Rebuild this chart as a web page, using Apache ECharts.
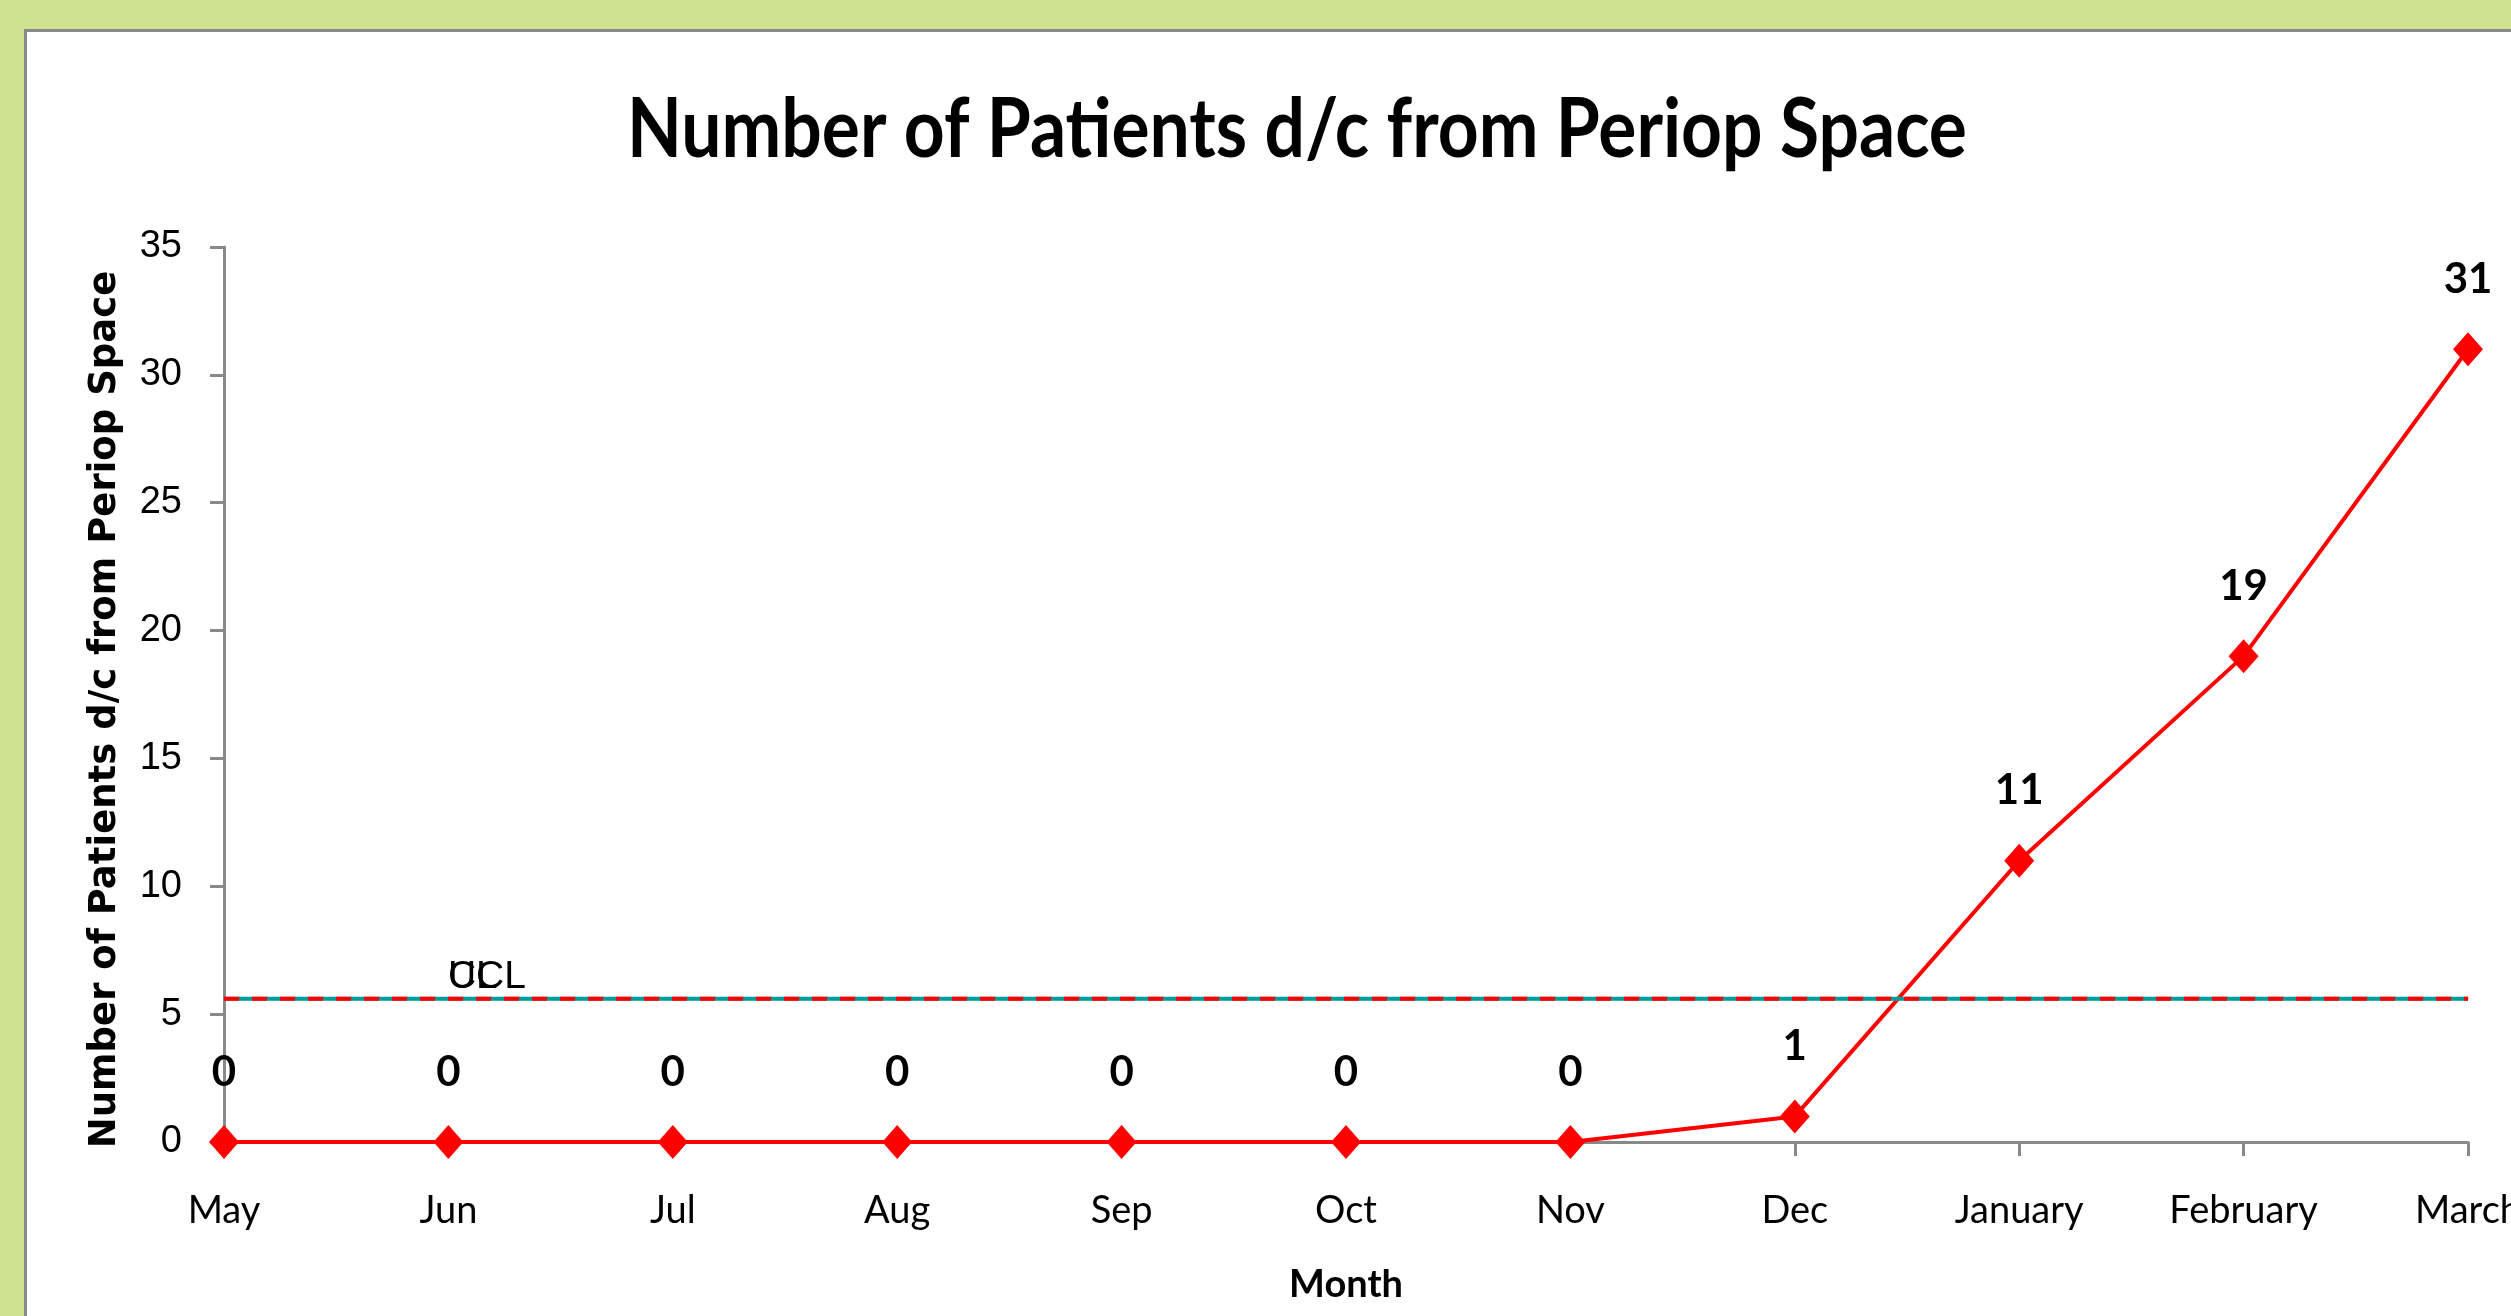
<!DOCTYPE html>
<html>
<head>
<meta charset="utf-8">
<script src="https://cdn.jsdelivr.net/npm/echarts@6/dist/echarts.min.js"></script>
<style>
  html, body { margin: 0; padding: 0; width: 2511px; height: 1316px; overflow: hidden; background: #cee28f; }
  #frame { position: absolute; left: 24px; top: 29px; width: 2600px; height: 1400px; background: #fff; border: 3px solid #8a8a8a; }
  #chart { position: absolute; left: 0; top: 0; width: 2511px; height: 1316px; }
</style>
</head>
<body>
<div id="frame"></div>
<div id="chart"></div>
<script>
var months = ['May', 'Jun', 'Jul', 'Aug', 'Sep', 'Oct', 'Nov', 'Dec', 'January', 'February', 'March'];
var patients = [0, 0, 0, 0, 0, 0, 0, 1, 11, 19, 31];
var uclValues = [5.6, 5.6, 5.6, 5.6, 5.6, 5.6, 5.6, 5.6, 5.6, 5.6, 5.6];
var clValues = [5.6, 5.6, 5.6, 5.6, 5.6, 5.6, 5.6, 5.6, 5.6, 5.6, 5.6];

var chart = echarts.init(document.getElementById('chart'), null, { renderer: 'canvas' });

// label only the Jun point of the control lines
function labelAtJun(values) {
  return values.map(function (v, i) {
    return i === 1 ? { value: v, label: { show: true } } : v;
  });
}

var controlLabel = {
  show: false,
  formatter: '{a}',
  position: [0, -2],
  align: 'left',
  verticalAlign: 'bottom',
  color: '#000',
  fontFamily: 'Liberation Sans Narrow, Liberation Sans, sans-serif',
  fontSize: 39
};

var option = {
  backgroundColor: 'transparent',
  animation: false,
  graphic: [{
    type: 'text',
    x: 1297,
    y: 131,
    scaleX: 0.87,
    originX: 0,
    style: {
      text: 'Number of Patients d/c from Periop Space',
      x: 0,
      y: 0,
      align: 'center',
      verticalAlign: 'middle',
      fontFamily: 'Lato',
      fontWeight: 'bold',
      fontSize: 82,
      fill: '#000'
    }
  }],
  grid: { left: 224, right: 43, top: 247, bottom: 174, outerBoundsMode: 'none' },
  xAxis: {
    type: 'category',
    data: months,
    boundaryGap: false,
    name: 'Month',
    nameLocation: 'middle',
    nameGap: 124,
    nameTextStyle: { fontFamily: 'Lato', fontWeight: 'bold', fontSize: 38, color: '#000' },
    axisLine: { lineStyle: { color: '#898989', width: 3 } },
    axisTick: { length: 14, lineStyle: { color: '#898989', width: 3 } },
    axisLabel: { margin: 50, fontFamily: 'Lato', fontSize: 38, color: '#000' },
    splitLine: { show: false }
  },
  yAxis: {
    type: 'value',
    min: 0,
    max: 35,
    interval: 5,
    name: 'Number of Patients d/c from Periop Space',
    nameLocation: 'middle',
    nameGap: 100,
    nameTextStyle: {
      fontFamily: 'DejaVu Sans',
      fontWeight: 'bold',
      fontSize: 37,
      color: '#000',
      padding: [0, 30, 0, 0]
    },
    axisLine: { show: true, lineStyle: { color: '#898989', width: 3 } },
    axisTick: { show: true, length: 14, lineStyle: { color: '#898989', width: 3 } },
    axisLabel: { margin: 42, fontFamily: 'Liberation Sans', fontSize: 38, color: '#000' },
    splitLine: { show: false }
  },
  series: [
    {
      name: 'Patients',
      type: 'line',
      data: patients,
      symbol: 'diamond',
      symbolSize: [30, 34],
      itemStyle: { color: '#ff0000' },
      lineStyle: { color: '#ff0000', width: 4 },
      label: {
        show: true,
        position: 'top',
        distance: 32,
        fontFamily: 'Lato',
        fontWeight: 'bold',
        fontSize: 42,
        color: '#000'
      },
      z: 3
    },
    {
      name: 'CL',
      type: 'line',
      data: labelAtJun(clValues),
      symbol: 'circle',
      symbolSize: 1,
      itemStyle: { color: '#009b9b' },
      lineStyle: { color: '#009b9b', width: 4 },
      label: controlLabel,
      z: 4
    },
    {
      name: 'UCL',
      type: 'line',
      data: labelAtJun(uclValues),
      symbol: 'circle',
      symbolSize: 1,
      itemStyle: { color: '#ff0000' },
      lineStyle: { color: '#ff0000', width: 4, type: [15, 13] },
      label: controlLabel,
      z: 5
    }
  ]
};

chart.setOption(option);
</script>
</body>
</html>
